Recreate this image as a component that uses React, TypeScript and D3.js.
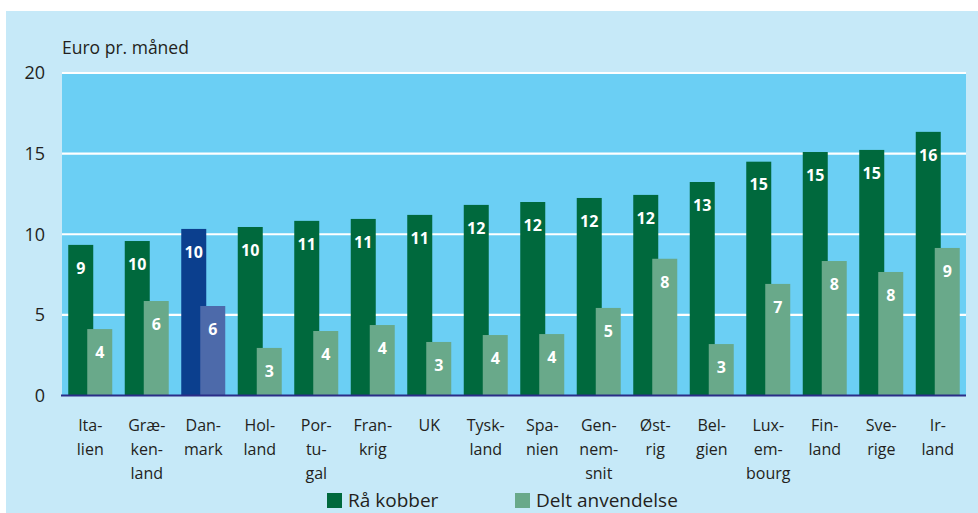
import React from "react";
import * as d3 from "d3";

const categories: string[][] = [
  ["Ita-", "lien"],
  ["Græ-", "ken-", "land"],
  ["Dan-", "mark"],
  ["Hol-", "land"],
  ["Por-", "tu-", "gal"],
  ["Fran-", "krig"],
  ["UK"],
  ["Tysk-", "land"],
  ["Spa-", "nien"],
  ["Gen-", "nem-", "snit"],
  ["Øst-", "rig"],
  ["Bel-", "gien"],
  ["Lux-", "em-", "bourg"],
  ["Fin-", "land"],
  ["Sve-", "rige"],
  ["Ir-", "land"],
];
const raaKobber = [9.34, 9.58, 10.33, 10.45, 10.83, 10.95, 11.2, 11.82, 12.0, 12.25, 12.44, 13.24, 14.5, 15.1, 15.23, 16.35];
const deltAnvendelse = [4.12, 5.86, 5.55, 2.95, 4.0, 4.37, 3.32, 3.75, 3.81, 5.43, 8.48, 3.19, 6.92, 8.34, 7.66, 9.15];
const yTicks = [0, 5, 10, 15, 20];
const highlightIndex = 2;

const W = 978;
const H = 513;
const plotLeft = 62;
const plotRight = 966;
const plotTop = 73;
const plotBottom = 395.5;

const FONT = "'Open Sans', 'DejaVu Sans', sans-serif";

export default function App() {
  const x = d3
    .scaleBand<number>()
    .domain(d3.range(categories.length))
    .range([plotLeft, plotRight])
    .paddingInner(0)
    .paddingOuter(0);
  const y = d3.scaleLinear().domain([0, 20]).range([plotBottom, plotTop]);
  const bw = 25;
  const overlap = 6;
  const groupW = bw * 2 - overlap;

  return (
    <svg
      width={W}
      height={H}
      style={{ position: "absolute", left: 0, top: 0, fontFamily: FONT }}
    >
      <rect x={0} y={0} width={W} height={H} fill="#ffffff" />
      <rect x={6} y={11} width={W - 6} height={H - 11} fill="#c6e9f8" />
      <rect x={plotLeft} y={plotTop} width={plotRight - plotLeft} height={plotBottom - plotTop} fill="#6bcff4" />
      {yTicks.map((t) => (
        <g key={t}>
          {t > 0 && (
            <line x1={plotLeft} x2={plotRight} y1={y(t)} y2={y(t)} stroke="#ffffff" strokeWidth={2.2} />
          )}
          <text x={45} y={y(t)} dy="0.36em" textAnchor="end" fontSize={18} fill="#231f20">
            {t}
          </text>
        </g>
      ))}
      <text x={62} y={54} fontSize={17.5} fill="#231f20">
        Euro pr. måned
      </text>
      {categories.map((c, i) => {
        const gx = (x(i) as number) + (x.bandwidth() - groupW) / 2;
        const hi = i === highlightIndex;
        const c1 = hi ? "#0b3f8e" : "#00693d";
        const c2 = hi ? "#4d6aaa" : "#69a98a";
        const v1 = raaKobber[i];
        const v2 = deltAnvendelse[i];
        const x2 = gx + bw - overlap;
        return (
          <g key={i}>
            <rect x={gx} y={y(v1)} width={bw} height={plotBottom - y(v1)} fill={c1} />
            <rect x={x2} y={y(v2)} width={bw} height={plotBottom - y(v2)} fill={c2} />
            <text x={gx + bw / 2} y={y(v1) + 23} dy="0.36em" textAnchor="middle" fontSize={16} fontWeight="bold" fill="#ffffff">
              {Math.round(v1)}
            </text>
            <text x={x2 + bw / 2} y={y(v2) + 23} dy="0.36em" textAnchor="middle" fontSize={16} fontWeight="bold" fill="#ffffff">
              {Math.round(v2)}
            </text>
            {c.map((line, j) => (
              <text
                key={j}
                x={(x(i) as number) + x.bandwidth() / 2}
                y={425 + j * 24}
                dy="0.36em"
                textAnchor="middle"
                fontSize={16}
                fill="#231f20"
              >
                {line}
              </text>
            ))}
          </g>
        );
      })}
      <line x1={plotLeft - 1} x2={plotRight} y1={plotBottom} y2={plotBottom} stroke="#2b2d88" strokeWidth={2.2} />
      <rect x={327} y={493} width={15} height={15} fill="#00693d" />
      <text x={348} y={500.5} dy="0.36em" fontSize={19} fill="#231f20">
        Rå kobber
      </text>
      <rect x={515} y={493} width={15} height={15} fill="#69a98a" />
      <text x={536} y={500.5} dy="0.36em" fontSize={19} fill="#231f20">
        Delt anvendelse
      </text>
    </svg>
  );
}
